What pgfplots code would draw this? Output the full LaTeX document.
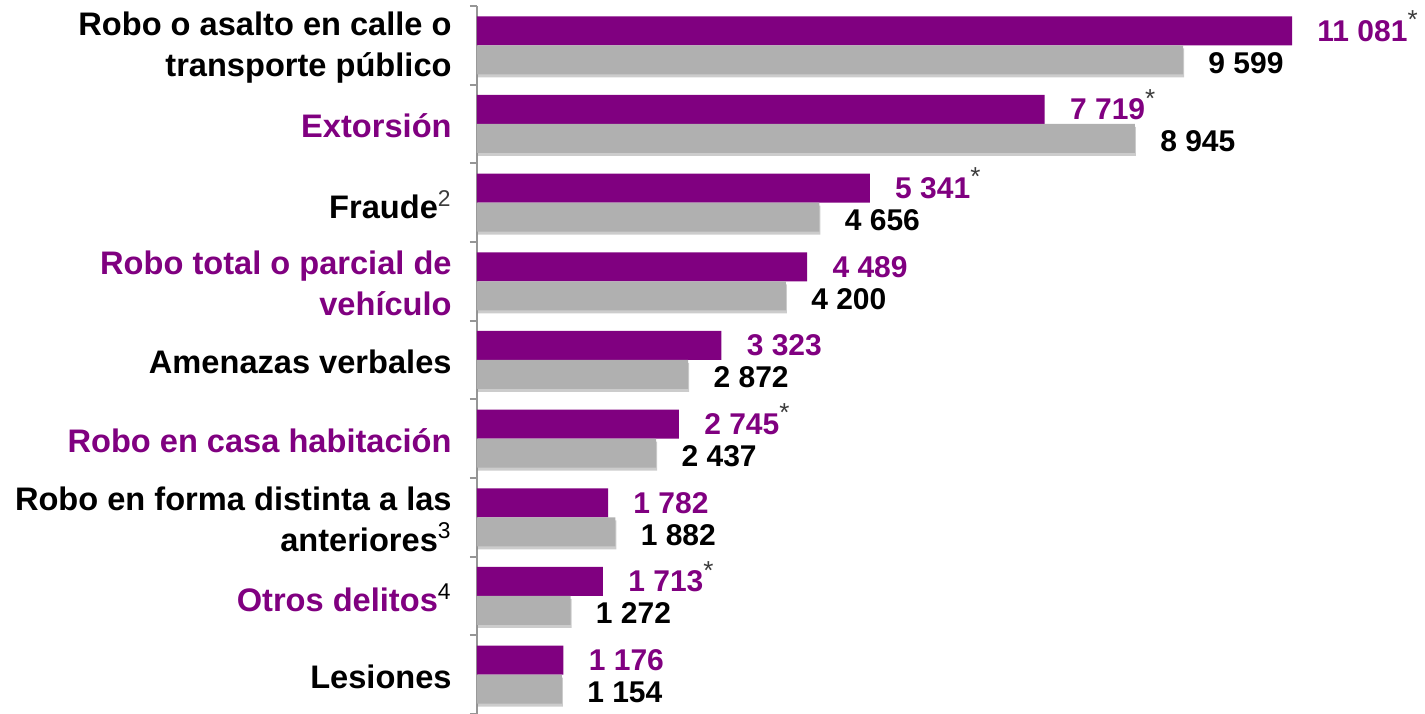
\documentclass[border=0pt]{standalone}
\usepackage{fontspec}
\setmainfont{Liberation Sans}
\usepackage{pgfplots}
\pgfplotsset{compat=1.18}
\usetikzlibrary{shadows}
\definecolor{vp}{RGB}{128,0,128}
\definecolor{vg}{RGB}{176,176,176}
\definecolor{axc}{RGB}{150,150,150}
\definecolor{astc}{RGB}{60,60,60}
\newcommand{\sast}{\smash{\raisebox{0.42em}{\fontsize{13}{13}\selectfont\mdseries\color{astc}*}}}
\begin{document}
\begin{tikzpicture}
\begin{axis}[
  scale only axis, width=474pt, height=354pt,
  xmin=0, xmax=12889, ymin=-0.5, ymax=8.5, y dir=reverse,
  axis x line=none, axis y line*=left,
  y axis line style={-, axc, line width=1pt},
  xbar, bar width=14.5pt,
  ytick={0,...,8},
  minor ytick={-0.5,0.5,...,8.5},
  major tick length=0pt, minor tick length=3.5pt, tick align=outside,
  minor tick style={axc, line width=1pt},
  yticklabels={
    {Robo o asalto en calle o\\transporte público},
    {\color{vp}Extorsión},
    {Fraude\textsuperscript{\mdseries\color{astc}2}},
    {\color{vp}Robo total o parcial de\\\color{vp}vehículo},
    {Amenazas verbales},
    {\color{vp}Robo en casa habitación},
    {Robo en forma distinta a las\\anteriores\textsuperscript{\mdseries 3}},
    {\color{vp}Otros delitos\textsuperscript{\mdseries\color{black}4}},
    {Lesiones}},
  yticklabel style={font=\fontsize{16.3}{20.5}\selectfont\bfseries, align=right, inner sep=0pt, xshift=-12.5pt, yshift=-1pt},
  point meta=explicit symbolic,
  nodes near coords,
  every node near coord/.append style={anchor=west, inner sep=0pt, xshift=12.5pt, font=\fontsize{15}{18}\selectfont\bfseries},
]
\addplot[fill=vp, draw=none, bar shift=7.25pt,
  every node near coord/.append style={text=vp}] coordinates {
  (11081,0) [11 081\sast]
  (7719,1) [7 719\sast]
  (5341,2) [5 341\sast]
  (4489,3) [4 489]
  (3323,4) [3 323]
  (2745,5) [2 745\sast]
  (1782,6) [1 782]
  (1713,7) [1 713\sast]
  (1176,8) [1 176]
};
\addplot[fill=vg, draw=none, bar shift=-7.25pt,
  drop shadow={shadow xshift=0.5pt, shadow yshift=-1.5pt, opacity=0.2, fill=black},
  every node near coord/.append style={text=black, yshift=-1.5pt}] coordinates {
  (9599,0) [9 599]
  (8945,1) [8 945]
  (4656,2) [4 656]
  (4200,3) [4 200]
  (2872,4) [2 872]
  (2437,5) [2 437]
  (1882,6) [1 882]
  (1272,7) [1 272]
  (1154,8) [1 154]
};
\end{axis}
\pgfresetboundingbox
\path[use as bounding box] ([xshift=-238.5pt]current axis.south west) rectangle ([yshift=3pt]current axis.north east);
\end{tikzpicture}
\end{document}
